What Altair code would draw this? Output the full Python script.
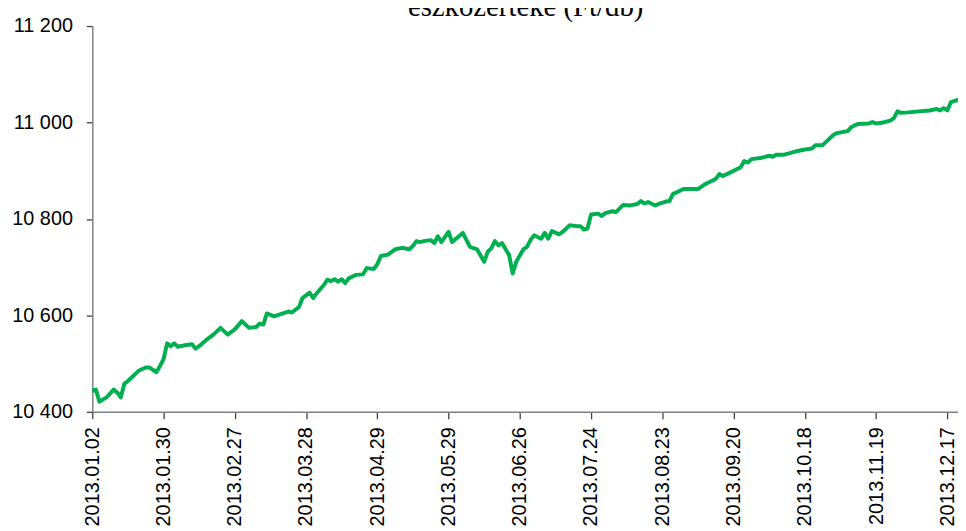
import altair as alt
import pandas as pd

# trading-day index (0 = 2013.01.02) and net asset value per unit (Ft/db)
day_index = [0, 1, 2, 4, 6, 7, 8, 9, 10, 13, 15, 16, 18, 19, 20, 21, 22, 23, 24, 26,
             28, 29, 30, 32, 34, 36, 38, 40, 42, 44, 46, 47, 48, 49, 51, 55, 56, 58, 59, 61,
             62, 63, 65, 66, 67, 68, 69, 70, 71, 72, 74, 76, 77, 79, 80, 81, 83, 85, 87, 89,
             90, 91, 92, 93, 95, 96, 97, 98, 100, 101, 104, 106, 108, 110, 111, 112, 113, 114, 115, 117,
             118, 119, 121, 122, 123, 124, 126, 127, 128, 129, 131, 132, 134, 136, 137, 138, 139, 140, 142, 143,
             144, 146, 147, 149, 151, 153, 154, 155, 156, 158, 159, 161, 162, 163, 164, 166, 169, 170, 172, 175,
             176, 177, 179, 182, 183, 184, 185, 188, 190, 191, 192, 194, 196, 198, 200, 202, 203, 205, 207, 208,
             209, 212, 213, 214, 215, 218, 219, 220, 222, 224, 225, 226, 227, 229, 232, 235, 237, 238, 239, 240,
             241, 243]
nav = [10444, 10446, 10421, 10430, 10446, 10440, 10430, 10458, 10464, 10485, 10492, 10492, 10482, 10495, 10509, 10542, 10536, 10542, 10535, 10538,
       10540, 10531, 10536, 10549, 10560, 10574, 10560, 10571, 10588, 10574, 10576, 10583, 10581, 10604, 10598, 10608, 10606, 10617, 10636, 10647,
       10636, 10646, 10663, 10674, 10671, 10675, 10670, 10675, 10667, 10677, 10684, 10685, 10698, 10696, 10706, 10723, 10726, 10737, 10740, 10737,
       10744, 10754, 10752, 10754, 10756, 10750, 10764, 10752, 10773, 10752, 10771, 10742, 10737, 10711, 10732, 10739, 10754, 10745, 10750, 10725,
       10687, 10711, 10737, 10742, 10756, 10766, 10759, 10771, 10759, 10775, 10768, 10773, 10787, 10785, 10785, 10778, 10780, 10809, 10811, 10806,
       10812, 10816, 10814, 10829, 10828, 10831, 10837, 10832, 10835, 10828, 10831, 10836, 10837, 10852, 10855, 10862, 10862, 10862, 10872, 10883,
       10893, 10889, 10896, 10907, 10920, 10917, 10924, 10927, 10931, 10929, 10933, 10933, 10937, 10941, 10944, 10946, 10953, 10953, 10967, 10974,
       10978, 10982, 10990, 10994, 10997, 10998, 11001, 10998, 11000, 11004, 11009, 11023, 11020, 11021, 11023, 11025, 11028, 11025, 11030, 11025,
       11042, 11047]

tick_days = [0, 20, 40, 60, 80, 100, 120, 140, 160, 180, 200, 220, 240]
tick_labels = ["2013.01.02", "2013.01.30", "2013.02.27", "2013.03.28", "2013.04.29",
               "2013.05.29", "2013.06.26", "2013.07.24", "2013.08.23", "2013.09.20",
               "2013.10.18", "2013.11.19", "2013.12.17"]
y_ticks = [10400, 10600, 10800, 11000, 11200]
title_text = "eszközértéke (Ft/db)"

df = pd.DataFrame({"day": day_index, "nav": nav})

label_array = "[" + ",".join("'" + t + "'" for t in tick_labels) + "]"

line = alt.Chart(df).mark_line(color="#00B050", strokeWidth=4, clip=True,
                               strokeJoin="round", strokeCap="round").encode(
    x=alt.X("day:Q",
            scale=alt.Scale(domain=[0, 243], nice=False, zero=False),
            axis=alt.Axis(values=tick_days, labelExpr=label_array + "[round(datum.value/20)]",
                          labelAngle=270, labelFontSize=20, labelFont="Liberation Sans",
                          labelColor="#000000", tickSize=7, labelPadding=8,
                          domainColor="#808080", domainWidth=1.5, tickColor="#404040",
                          tickWidth=1.3, grid=False, title=None, labelOverlap=False,
                          labelFlush=False, labelBound=False)),
    y=alt.Y("nav:Q",
            scale=alt.Scale(domain=[10400, 11200], nice=False, zero=False),
            axis=alt.Axis(values=y_ticks,
                          labelExpr="replace(format(datum.value, ',d'), ',', ' ')",
                          labelFontSize=20, labelFont="Liberation Sans", labelColor="#000000",
                          tickSize=6, labelPadding=14, domainColor="#808080", domainWidth=1.5,
                          tickColor="#404040", tickWidth=1.3, grid=False, title=None,
                          labelFlush=False, labelBound=False)),
)

title = alt.Chart(pd.DataFrame({"t": [title_text]})).mark_text(
    font="Liberation Serif", fontSize=29, align="center", baseline="alphabetic", color="#000000"
).encode(text="t:N", x=alt.value(437), y=alt.value(-10))

chart = alt.layer(line, title).properties(
    width=873, height=389,
    autosize=alt.AutoSizeParams(type="none"),
    padding={"left": 85, "top": 16, "right": 0, "bottom": 118},
).configure_view(stroke=None)

chart.save("out.html", embed_options={"renderer": "svg", "actions": False})
